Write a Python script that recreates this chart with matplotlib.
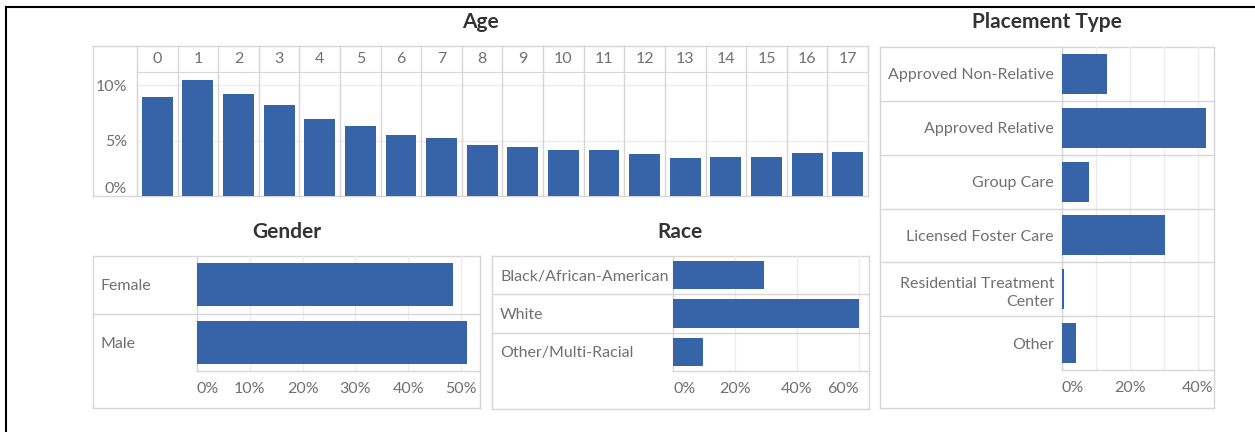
import matplotlib.pyplot as plt
from matplotlib.lines import Line2D

plt.switch_backend('Agg')
plt.rcParams['font.family'] = ['Lato', 'DejaVu Sans']

# data (percent of children)
ages = list(range(18))
age_pct = [8.9, 10.5, 9.2, 8.2, 7.0, 6.3, 5.5, 5.2, 4.6, 4.4,
           4.2, 4.2, 3.8, 3.4, 3.5, 3.5, 3.9, 4.0]

genders = ['Female', 'Male']
gender_pct = [48.4, 51.2]

races = ['Black/African-American', 'White', 'Other/Multi-Racial']
race_pct = [29.4, 60.0, 9.7]

placements = ['Approved Non-Relative', 'Approved Relative', 'Group Care',
              'Licensed Foster Care', 'Residential Treatment\nCenter', 'Other']
placement_pct = [13.1, 42.3, 8.0, 30.4, 0.6, 4.1]

W, H = 1255, 432
BLUE = '#3763a9'
FRAME = '#d6d6d6'
GRID = '#ececec'
TXT = '#707070'
TITLE = '#333333'
FS = 11.5
TFS = 15

fig = plt.figure(figsize=(W / 100, H / 100), dpi=100)


def box(x0, y0, x1, y1):
    return [x0 / W, 1 - y1 / H, (x1 - x0) / W, (y1 - y0) / H]


def px2pt(p):
    return p * 0.72


def frame_axes(x0, y0, x1, y1):
    bg = fig.add_axes(box(x0, y0, x1, y1), zorder=0)
    bg.set_xticks([])
    bg.set_yticks([])
    for s in bg.spines.values():
        s.set_color(FRAME)
        s.set_linewidth(1)
    return bg


def hbar_panel(bx, label_right, axis_top, cats, vals, xmax, ticks, grid,
               title, title_xy, left_labels, last_right=False):
    x0, y0, x1, y1 = bx
    frame_axes(x0, y0, x1, y1)
    ax = fig.add_axes(box(label_right, y0, x1, axis_top), zorder=1)
    ax.patch.set_alpha(0)
    n = len(cats)
    ax.barh(range(n), vals, height=0.74, color=BLUE, zorder=3)
    ax.set_ylim(n - 0.5, -0.5)
    ax.set_xlim(0, xmax)
    ax.set_axisbelow(True)
    for s in ['top', 'right']:
        ax.spines[s].set_visible(False)
    for s in ['left', 'bottom']:
        ax.spines[s].set_color(FRAME)
        ax.spines[s].set_linewidth(1)
    frac = (label_right - x0) / (x1 - label_right)
    for i in range(1, n):
        ax.axhline(i - 0.5, xmin=-frac, xmax=1, color=FRAME, lw=1,
                   clip_on=False, zorder=1)
    ax.set_xticks(ticks)
    ax.set_xticklabels([f'{t}%' for t in ticks])
    ax.set_xticks(grid, minor=True)
    ax.grid(axis='x', which='both', color=GRID, lw=1)
    ax.tick_params(axis='x', which='both', length=0, pad=px2pt(18),
                   labelsize=FS, labelcolor=TXT)
    xl = ax.get_xticklabels()
    for t in xl:
        t.set_va('center')
    xl[0].set_ha('left')
    if last_right:
        xl[-1].set_ha('right')
    ax.set_yticks(range(n))
    ax.set_yticklabels(cats)
    if left_labels:
        ax.tick_params(axis='y', length=0,
                       pad=px2pt(label_right - x0 - 8),
                       labelsize=FS, labelcolor=TXT)
        for t in ax.get_yticklabels():
            t.set_ha('left')
    else:
        ax.tick_params(axis='y', length=0, pad=px2pt(8),
                       labelsize=FS, labelcolor=TXT)
    for t in ax.get_yticklabels():
        t.set_linespacing(1.35)
    fig.text(title_xy[0] / W, 1 - title_xy[1] / H, title, ha='center',
             va='center', fontsize=TFS, fontweight='bold', color=TITLE)
    return ax


# Age panel
frame_axes(93, 46, 868, 196)
ax = fig.add_axes(box(137, 72, 868, 196), zorder=1)
ax.patch.set_alpha(0)
ax.bar(ages, age_pct, width=0.76, color=BLUE, zorder=3)
ax.set_xlim(-0.5, 17.5)
ax.set_ylim(0, 11.2)
ax.set_axisbelow(True)
ax.spines['right'].set_visible(False)
ax.spines['bottom'].set_visible(False)
for s in ['left', 'top']:
    ax.spines[s].set_color(FRAME)
ext = 1 + 26 / 124
for i in range(-1, 17):
    ax.axvline(i + 0.5, ymin=0, ymax=ext, color=FRAME, lw=1,
               clip_on=False, zorder=1)
ax.xaxis.tick_top()
ax.set_xticks(ages)
ax.set_xticklabels([str(a) for a in ages])
ax.tick_params(axis='x', length=0, pad=px2pt(13), labelsize=FS,
               labelcolor=TXT)
for t in ax.get_xticklabels():
    t.set_va('center')
ax.set_yticks([0, 5, 10])
ax.set_yticklabels(['0%', '5%', '10%'])
ax.tick_params(axis='y', length=0, pad=px2pt(10), labelsize=FS,
               labelcolor=TXT)
ax.get_yticklabels()[0].set_va('bottom')
ax.grid(axis='y', color=GRID, lw=1)
fig.text(480 / W, 1 - 22 / H, 'Age', ha='center', va='center',
         fontsize=TFS, fontweight='bold', color=TITLE)

# Gender panel
hbar_panel((93, 256, 480, 408), 197, 371, genders, gender_pct, 53.6,
           [0, 10, 20, 30, 40, 50], [0, 10, 20, 30, 40, 50],
           'Gender', (287, 232), True)

# Race panel
hbar_panel((492, 256, 869, 409), 673, 371, races, race_pct, 63.2,
           [0, 20, 40, 60], [0, 20, 40, 60],
           'Race', (680, 232), True, last_right=True)

# Placement type panel
hbar_panel((880, 47, 1214, 408), 1062, 370, placements, placement_pct, 44.7,
           [0, 20, 40], [0, 10, 20, 30, 40],
           'Placement Type', (1047, 22), False)

# outer border
fig.add_artist(Line2D([6 / W, 1], [1 - 7 / H, 1 - 7 / H], color='black',
                      lw=1.5, transform=fig.transFigure))
fig.add_artist(Line2D([6 / W, 6 / W], [0, 1 - 7 / H], color='black',
                      lw=1.5, transform=fig.transFigure))

fig.savefig('out.png', dpi=100)
